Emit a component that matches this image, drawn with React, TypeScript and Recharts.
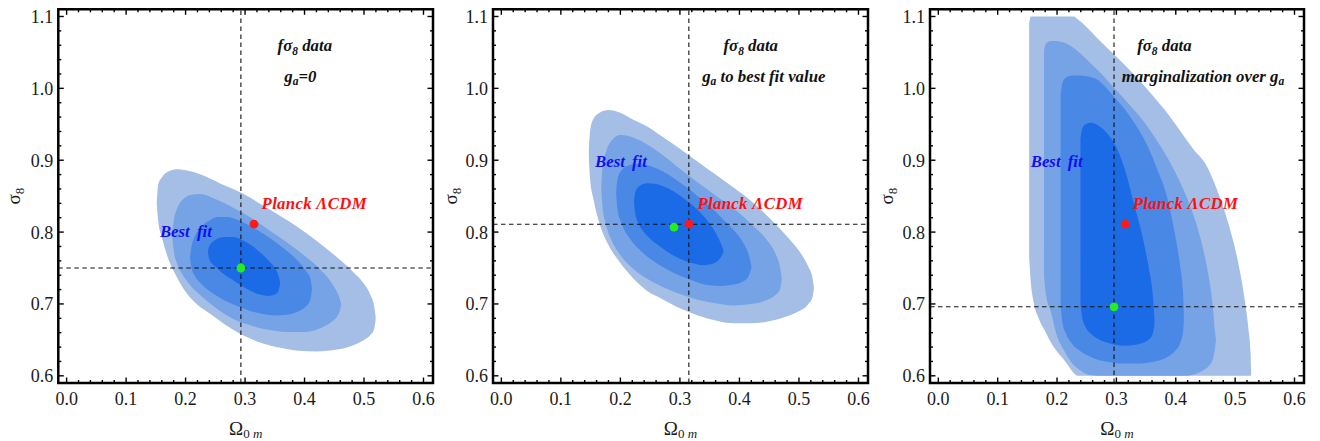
import React from 'react';
import { ComposedChart, Area, Scatter, XAxis, YAxis, ReferenceLine, ReferenceArea } from 'recharts';

const FONT = '"Liberation Serif", "Times New Roman", serif';

const X_DOMAIN: [number, number] = [-0.014, 0.616];
const Y_DOMAIN: [number, number] = [0.59, 1.11];

const X_MAJOR = [0, 0.1, 0.2, 0.3, 0.4, 0.5, 0.6];
const X_LABELS = ['0.0', '0.1', '0.2', '0.3', '0.4', '0.5', '0.6'];
const X_TICKS = [0, 0.02, 0.04, 0.06, 0.08, 0.1, 0.12, 0.14, 0.16, 0.18, 0.2, 0.22, 0.24, 0.26, 0.28, 0.3,
  0.32, 0.34, 0.36, 0.38, 0.4, 0.42, 0.44, 0.46, 0.48, 0.5, 0.52, 0.54, 0.56, 0.58, 0.6];
const Y_MAJOR = [0.6, 0.7, 0.8, 0.9, 1.0, 1.1];
const Y_LABELS = ['0.6', '0.7', '0.8', '0.9', '1.0', '1.1'];
const Y_TICKS = [0.6, 0.62, 0.64, 0.66, 0.68, 0.7, 0.72, 0.74, 0.76, 0.78, 0.8, 0.82, 0.84, 0.86, 0.88, 0.9,
  0.92, 0.94, 0.96, 0.98, 1.0, 1.02, 1.04, 1.06, 1.08, 1.1];

const LEVEL_COLORS = ['#a4bee6', '#75a3e6', '#4a88e6', '#1b6be6'];

// contour bands: [Omega_0m, sigma8 lower, sigma8 upper]
const P1_C1 = [[0.1515, 0.840, 0.842], [0.154, 0.815, 0.866], [0.16, 0.793, 0.876], [0.17, 0.765, 0.884], [0.185, 0.738, 0.8875],
  [0.20, 0.717, 0.886], [0.22, 0.699, 0.882], [0.24, 0.687, 0.875], [0.26, 0.675, 0.867], [0.28, 0.664, 0.860],
  [0.30, 0.655, 0.852], [0.33, 0.645, 0.837], [0.36, 0.639, 0.822], [0.39, 0.635, 0.806], [0.42, 0.634, 0.788],
  [0.45, 0.636, 0.768], [0.48, 0.642, 0.746], [0.50, 0.650, 0.728], [0.51, 0.656, 0.714], [0.517, 0.665, 0.697],
  [0.5195, 0.678, 0.683]];
const P1_C2 = [[0.1775, 0.795, 0.797], [0.180, 0.775, 0.815], [0.186, 0.756, 0.833], [0.195, 0.741, 0.845], [0.21, 0.724, 0.852],
  [0.225, 0.712, 0.853], [0.25, 0.695, 0.846], [0.28, 0.679, 0.834], [0.31, 0.670, 0.820], [0.34, 0.664, 0.803],
  [0.37, 0.661, 0.786], [0.40, 0.661, 0.767], [0.425, 0.666, 0.749], [0.445, 0.675, 0.730], [0.455, 0.683, 0.716],
  [0.459, 0.690, 0.708], [0.4615, 0.698, 0.700]];
const P1_C3 = [[0.2075, 0.764, 0.766], [0.21, 0.750, 0.780], [0.215, 0.740, 0.793], [0.225, 0.729, 0.806], [0.24, 0.718, 0.816],
  [0.255, 0.710, 0.821], [0.27, 0.703, 0.821], [0.29, 0.696, 0.816], [0.31, 0.690, 0.808], [0.33, 0.686, 0.798],
  [0.35, 0.684, 0.787], [0.37, 0.685, 0.774], [0.39, 0.690, 0.759], [0.403, 0.697, 0.745], [0.41, 0.707, 0.735],
  [0.4125, 0.720, 0.722]];
const P1_C4 = [[0.2375, 0.771, 0.773], [0.24, 0.762, 0.781], [0.25, 0.752, 0.789], [0.265, 0.741, 0.793], [0.28, 0.733, 0.793],
  [0.295, 0.725, 0.789], [0.31, 0.718, 0.782], [0.325, 0.713, 0.772], [0.34, 0.711, 0.760], [0.35, 0.713, 0.750],
  [0.356, 0.718, 0.740], [0.359, 0.728, 0.730]];

const P2_C1 = [[0.147, 0.905, 0.915], [0.149, 0.875, 0.94], [0.155, 0.845, 0.958], [0.165, 0.812, 0.966], [0.18, 0.782, 0.970],
  [0.20, 0.757, 0.966], [0.22, 0.737, 0.957], [0.245, 0.718, 0.947], [0.27, 0.707, 0.933], [0.30, 0.694, 0.916],
  [0.33, 0.684, 0.898], [0.36, 0.677, 0.880], [0.39, 0.673, 0.862], [0.42, 0.673, 0.843], [0.45, 0.676, 0.820],
  [0.48, 0.683, 0.794], [0.50, 0.690, 0.774], [0.515, 0.699, 0.753], [0.523, 0.710, 0.735], [0.525, 0.720, 0.724]];
const P2_C2 = [[0.168, 0.860, 0.864], [0.170, 0.835, 0.89], [0.176, 0.81, 0.912], [0.185, 0.789, 0.927], [0.20, 0.768, 0.935],
  [0.22, 0.750, 0.932], [0.245, 0.735, 0.922], [0.27, 0.724, 0.908], [0.30, 0.714, 0.888], [0.33, 0.706, 0.869],
  [0.36, 0.701, 0.851], [0.39, 0.698, 0.833], [0.42, 0.700, 0.811], [0.445, 0.705, 0.790], [0.46, 0.712, 0.771],
  [0.468, 0.72, 0.752], [0.471, 0.733, 0.737]];
const P2_C3 = [[0.193, 0.853, 0.857], [0.195, 0.832, 0.873], [0.202, 0.812, 0.886], [0.215, 0.792, 0.893], [0.23, 0.777, 0.895],
  [0.25, 0.763, 0.892], [0.27, 0.752, 0.885], [0.29, 0.743, 0.875], [0.31, 0.736, 0.863], [0.33, 0.730, 0.850],
  [0.35, 0.726, 0.836], [0.37, 0.725, 0.820], [0.39, 0.727, 0.803], [0.405, 0.731, 0.787], [0.415, 0.738, 0.770],
  [0.42, 0.750, 0.754]];
const P2_C4 = [[0.223, 0.840, 0.844], [0.225, 0.825, 0.855], [0.232, 0.810, 0.864], [0.245, 0.795, 0.868], [0.26, 0.784, 0.867],
  [0.28, 0.772, 0.861], [0.30, 0.763, 0.851], [0.32, 0.757, 0.838], [0.34, 0.754, 0.822], [0.355, 0.756, 0.806],
  [0.365, 0.761, 0.791], [0.371, 0.768, 0.780], [0.373, 0.772, 0.776]];

const P3_C1 = [[0.153, 0.765, 1.09], [0.156, 0.728, 1.1], [0.16, 0.705, 1.1], [0.17, 0.678, 1.1], [0.18, 0.662, 1.1],
  [0.19, 0.646, 1.1], [0.20, 0.634, 1.1], [0.21, 0.624, 1.1], [0.22, 0.613, 1.1], [0.228, 0.604, 1.1],
  [0.235, 0.6, 1.096], [0.25, 0.6, 1.085], [0.27, 0.6, 1.068], [0.30, 0.6, 1.044], [0.33, 0.6, 1.019],
  [0.36, 0.6, 0.991], [0.39, 0.6, 0.961], [0.41, 0.6, 0.938], [0.43, 0.6, 0.915], [0.45, 0.6, 0.895],
  [0.47, 0.6, 0.858], [0.49, 0.6, 0.808], [0.505, 0.6, 0.758], [0.515, 0.6, 0.712], [0.522, 0.6, 0.668],
  [0.526, 0.6, 0.632], [0.527, 0.6, 0.605]];
const P3_C2 = [[0.178, 0.74, 1.05], [0.181, 0.715, 1.062], [0.19, 0.688, 1.066], [0.20, 0.655, 1.066], [0.21, 0.638, 1.064],
  [0.225, 0.618, 1.058], [0.24, 0.607, 1.048], [0.255, 0.601, 1.036], [0.27, 0.6, 1.024], [0.29, 0.6, 1.006],
  [0.32, 0.6, 0.979], [0.345, 0.6, 0.955], [0.37, 0.6, 0.925], [0.395, 0.6, 0.89], [0.415, 0.6, 0.855],
  [0.43, 0.602, 0.823], [0.445, 0.607, 0.78], [0.455, 0.613, 0.74], [0.462, 0.622, 0.70], [0.466, 0.638, 0.662],
  [0.4675, 0.648, 0.652]];
const P3_C3 = [[0.206, 0.70, 0.99], [0.209, 0.675, 1.007], [0.215, 0.659, 1.015], [0.225, 0.645, 1.018], [0.24, 0.634, 1.018],
  [0.255, 0.627, 1.016], [0.27, 0.622, 1.011], [0.29, 0.619, 0.994], [0.31, 0.617, 0.975], [0.33, 0.617, 0.952],
  [0.35, 0.618, 0.924], [0.37, 0.621, 0.885], [0.385, 0.626, 0.85], [0.398, 0.634, 0.80], [0.407, 0.645, 0.755],
  [0.412, 0.66, 0.72], [0.4135, 0.675, 0.69]];
const P3_C4 = [[0.2395, 0.70, 0.93], [0.242, 0.683, 0.943], [0.248, 0.668, 0.95], [0.258, 0.658, 0.952], [0.27, 0.651, 0.948],
  [0.285, 0.646, 0.937], [0.30, 0.643, 0.918], [0.315, 0.642, 0.885], [0.33, 0.643, 0.838], [0.345, 0.646, 0.79],
  [0.355, 0.651, 0.748], [0.361, 0.658, 0.715], [0.364, 0.67, 0.682]];

// reference lines and points
const P1_LINES = { x: 0.293, y: 0.750 };
const P2_LINES = { x: 0.315, y: 0.811 };
const P3_LINES = { x: 0.296, y: 0.696 };
const P1_BEST = [{ x: 0.293, y: 0.750 }];
const P2_BEST = [{ x: 0.290, y: 0.807 }];
const P3_BEST = [{ x: 0.296, y: 0.696 }];
const PLANCK = [{ x: 0.315, y: 0.811 }];

// annotations
const P1_TEXT = [
  { x: 0.4005, y: 1.0515, kind: 'fs8' },
  { x: 0.393, y: 1.009, kind: 'ga0' },
  { x: 0.4164, y: 0.8318, kind: 'planck' },
  { x: 0.2005, y: 0.7925, kind: 'best' },
];
const P2_TEXT = [
  { x: 0.419, y: 1.0515, kind: 'fs8' },
  { x: 0.441, y: 1.009, kind: 'gabest' },
  { x: 0.4181, y: 0.8318, kind: 'planck' },
  { x: 0.201, y: 0.891, kind: 'best' },
];
const P3_TEXT = [
  { x: 0.3808, y: 1.0515, kind: 'fs8' },
  { x: 0.4459, y: 1.009, kind: 'gamarg' },
  { x: 0.4164, y: 0.8318, kind: 'planck' },
  { x: 0.1994, y: 0.891, kind: 'best' },
];

const toBand = (rows: number[][]) => rows.map(([x, lo, hi]) => ({ x, r: [lo, hi] }));

const MAJOR_LEN = 5.5;
const MINOR_LEN = 3;
const majorIndex = (arr: number[], v: number) => arr.findIndex((m) => Math.abs(m - v) < 1e-6);

// frame tick marks drawn at both ends of a reference line through each tick value
const vTickShape = (len: number) => (p: any) => {
  const x = p.x1;
  const top = Math.min(p.y1, p.y2);
  const bot = Math.max(p.y1, p.y2);
  return (
    <g>
      <line x1={x} x2={x} y1={bot} y2={bot - len} stroke="#000" strokeWidth={1.4} />
      <line x1={x} x2={x} y1={top} y2={top + len} stroke="#000" strokeWidth={1.4} />
    </g>
  );
};
const hTickShape = (len: number) => (p: any) => {
  const y = p.y1;
  const l = Math.min(p.x1, p.x2);
  const r = Math.max(p.x1, p.x2);
  return (
    <g>
      <line x1={l} x2={l + len} y1={y} y2={y} stroke="#000" strokeWidth={1.4} />
      <line x1={r} x2={r - len} y1={y} y2={y} stroke="#000" strokeWidth={1.4} />
    </g>
  );
};
const V_MAJOR = vTickShape(MAJOR_LEN);
const V_MINOR = vTickShape(MINOR_LEN);
const H_MAJOR = hTickShape(MAJOR_LEN);
const H_MINOR = hTickShape(MINOR_LEN);

const BottomTick = (props: any) => {
  const { x, y, payload } = props;
  const i = majorIndex(X_MAJOR, payload.value);
  if (i < 0) return <g />;
  return (
    <text x={x} y={y + 22} textAnchor="middle" fontFamily={FONT} fontSize={18} fill="#1a1a1a">{X_LABELS[i]}</text>
  );
};
const LeftTick = (props: any) => {
  const { x, y, payload } = props;
  const i = majorIndex(Y_MAJOR, payload.value);
  if (i < 0) return <g />;
  return (
    <text x={x - 5} y={y + 6.5} textAnchor="end" fontFamily={FONT} fontSize={18} fill="#1a1a1a">{Y_LABELS[i]}</text>
  );
};

const XTitle = (props: any) => {
  const vb = props.viewBox || {};
  const cx = vb.x + vb.width / 2;
  return (
    <text x={cx} y={vb.y + 51.5} textAnchor="middle" fontFamily={FONT} fontSize={19} fill="#1a1a1a">
      Ω<tspan fontSize={13} dy={3}>0 </tspan><tspan fontSize={13} fontStyle="italic">m</tspan>
    </text>
  );
};
const makeYTitle = (off: number) => (props: any) => {
  const vb = props.viewBox || {};
  const cx = vb.x + vb.width - off;
  const cy = vb.y + vb.height / 2;
  return (
    <text x={cx} y={cy + 6} textAnchor="middle" fontFamily={FONT} fontSize={19} fill="#1a1a1a" transform={`rotate(-90, ${cx}, ${cy})`}>
      σ<tspan fontSize={13} dy={4}>8</tspan>
    </text>
  );
};

const renderAnnot = (p: any) => {
  const { cx, cy, payload } = p;
  const common: any = {
    x: cx, y: cy, textAnchor: 'middle', fontWeight: 'bold', fontStyle: 'italic', fontSize: 16.8, fontFamily: FONT,
  };
  switch (payload.kind) {
    case 'fs8':
      return <text {...common} fill="#111">fσ<tspan fontSize={11.5} dy={4}>8</tspan><tspan dy={-4}> data</tspan></text>;
    case 'ga0':
      return <text {...common} fill="#111">g<tspan fontSize={11.5} dy={3}>a</tspan><tspan dy={-3}>=0</tspan></text>;
    case 'gabest':
      return <text {...common} fill="#111">g<tspan fontSize={11.5} dy={3}>a</tspan><tspan dy={-3}> to best fit value</tspan></text>;
    case 'gamarg':
      return <text {...common} fill="#111">marginalization over g<tspan fontSize={11.5} dy={3}>a</tspan></text>;
    case 'planck':
      return <text {...common} fill="#ff1010" letterSpacing={0.3}>Planck ΛCDM</text>;
    case 'best':
      return <text {...common} fill="#1010f0" wordSpacing={3}>Best fit</text>;
    default:
      return <g />;
  }
};

type PanelProps = {
  left: number;
  width: number;
  yw: number;
  right: number;
  yTitleOff: number;
  bands: number[][][];
  lines: { x: number; y: number };
  best: { x: number; y: number }[];
  texts: { x: number; y: number; kind: string }[];
};

function Panel({ left, width, yw, right, yTitleOff, bands, lines, best, texts }: PanelProps) {
  const YTitle = makeYTitle(yTitleOff);
  return (
    <div style={{ position: 'absolute', left, top: 0 }}>
      <ComposedChart width={width} height={441} margin={{ top: 9.3, right, bottom: 0, left: 0 }}>
        <XAxis type="number" dataKey="x" domain={X_DOMAIN} allowDataOverflow ticks={X_TICKS} interval={0}
          tickSize={0} tickMargin={0} height={58} axisLine={false} tickLine={false} tick={<BottomTick />} label={<XTitle />} />
        <YAxis type="number" domain={Y_DOMAIN} allowDataOverflow ticks={Y_TICKS} interval={0} tickSize={0} tickMargin={0}
          width={yw} axisLine={false} tickLine={false} tick={<LeftTick />} label={<YTitle />} />
        {bands.map((b, i) => (
          <Area key={i} data={toBand(b)} dataKey="r" type="monotone" stroke="none" fill={LEVEL_COLORS[i]} fillOpacity={1}
            dot={false} activeDot={false} isAnimationActive={false} />
        ))}
        {X_TICKS.map((v) => (
          <ReferenceLine key={`xt${v}`} x={v} shape={majorIndex(X_MAJOR, v) >= 0 ? V_MAJOR : V_MINOR} />
        ))}
        {Y_TICKS.map((v) => (
          <ReferenceLine key={`yt${v}`} y={v} shape={majorIndex(Y_MAJOR, v) >= 0 ? H_MAJOR : H_MINOR} />
        ))}
        <ReferenceLine x={lines.x} stroke="#111" strokeWidth={1.1} strokeDasharray="4.5 3.5" />
        <ReferenceLine y={lines.y} stroke="#111" strokeWidth={1.1} strokeDasharray="4.5 3.5" />
        <ReferenceArea x1={X_DOMAIN[0]} x2={X_DOMAIN[1]} y1={Y_DOMAIN[0]} y2={Y_DOMAIN[1]} fill="none" fillOpacity={0}
          stroke="#000" strokeWidth={2.5} ifOverflow="visible" />
        <Scatter data={PLANCK} dataKey="y" isAnimationActive={false}
          shape={(p: any) => <circle cx={p.cx} cy={p.cy} r={4.4} fill="#ff1a1a" />} />
        <Scatter data={best} dataKey="y" isAnimationActive={false}
          shape={(p: any) => <circle cx={p.cx} cy={p.cy} r={4.4} fill="#22ee22" />} />
        <Scatter data={texts} dataKey="y" isAnimationActive={false} shape={renderAnnot} />
      </ComposedChart>
    </div>
  );
}

export default function App() {
  return (
    <div style={{ position: 'absolute', left: 0, top: 0, width: 1320, height: 441, background: '#fff', fontFamily: FONT }}>
      <Panel left={0} width={440} yw={58.3} right={7} yTitleOff={44.5} bands={[P1_C1, P1_C2, P1_C3, P1_C4]} lines={P1_LINES} best={P1_BEST} texts={P1_TEXT} />
      <Panel left={433.3} width={440} yw={60} right={5} yTitleOff={42} bands={[P2_C1, P2_C2, P2_C3, P2_C4]} lines={P2_LINES} best={P2_BEST} texts={P2_TEXT} />
      <Panel left={870} width={450} yw={60} right={16} yTitleOff={43} bands={[P3_C1, P3_C2, P3_C3, P3_C4]} lines={P3_LINES} best={P3_BEST} texts={P3_TEXT} />
    </div>
  );
}
